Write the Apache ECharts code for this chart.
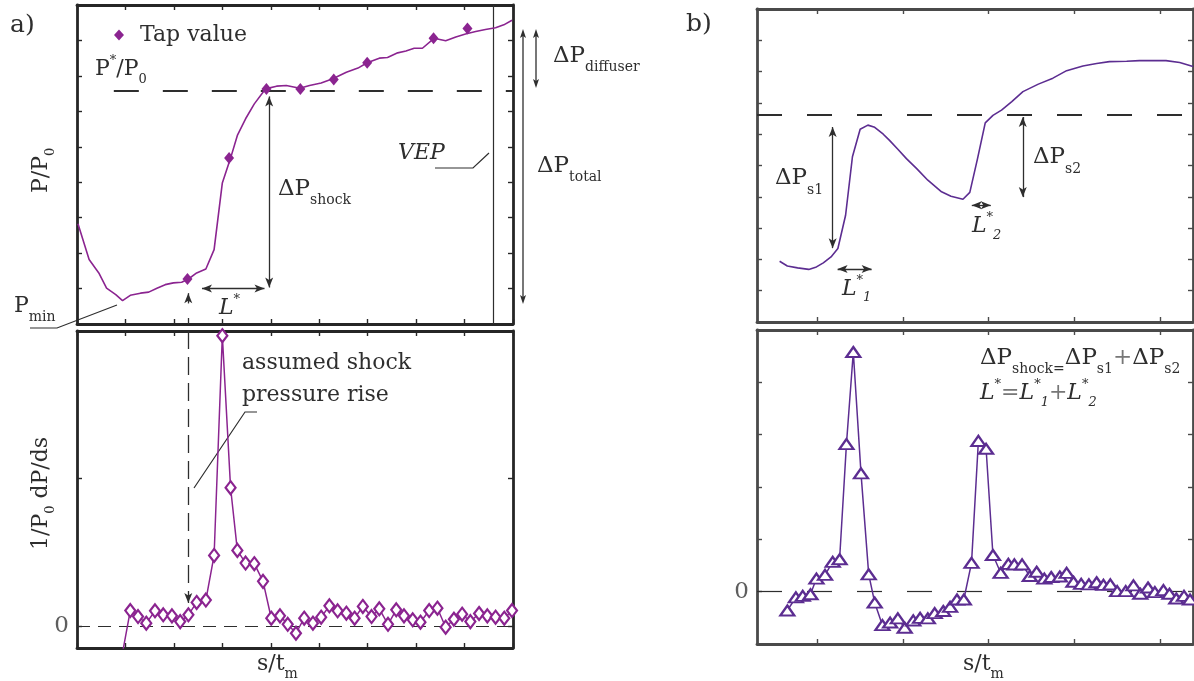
<!DOCTYPE html>
<html>
<head>
<meta charset="utf-8">
<script src="https://cdn.jsdelivr.net/npm/echarts@6/dist/echarts.min.js"></script>
<style>
html, body { margin: 0; padding: 0; background: #fff; }
#main { width: 1194px; height: 681px; }
</style>
</head>
<body>
<div id="main"></div>
<script>
// a) top: wall pressure along the passage, s/t_m against P/P0
var aLineX = [0.02,0.25,0.45,0.61,0.80,0.94,1.10,1.31,1.48,1.65,1.82,1.99,2.16,2.30,2.47,2.66,2.83,3.00,3.17,3.31,3.48,3.66,3.84,3.91,4.12,4.32,4.60,4.80,5.04,5.28,5.56,5.80,5.99,6.24,6.41,6.62,6.79,6.96,7.13,7.37,7.61,7.82,8.02,8.23,8.43,8.64,8.81,8.98];
var aLineY = [2.83,1.82,1.44,1.01,0.83,0.66,0.81,0.87,0.90,1.01,1.11,1.16,1.18,1.27,1.44,1.55,2.10,3.98,4.68,5.32,5.79,6.21,6.54,6.64,6.71,6.73,6.65,6.73,6.80,6.92,7.10,7.22,7.37,7.50,7.52,7.65,7.70,7.78,7.78,8.06,7.99,8.10,8.18,8.25,8.31,8.36,8.44,8.57];
// tap values
var tapX = [2.28,3.14,3.91,4.61,5.30,5.99,7.36,8.06];
var tapY = [1.27,4.68,6.63,6.63,6.90,7.37,8.06,8.34];
// a) bottom: 1/P0 dP/ds
var aGradX = [0.93,1.10,1.26,1.43,1.61,1.78,1.96,2.13,2.30,2.47,2.66,2.83,3.00,3.17,3.31,3.48,3.66,3.84,4.01,4.19,4.35,4.52,4.69,4.87,5.04,5.21,5.38,5.56,5.73,5.90,6.08,6.24,6.42,6.59,6.75,6.93,7.09,7.27,7.44,7.61,7.78,7.95,8.12,8.30,8.47,8.64,8.82,8.98];
var aGradY = [-0.20,0.104,0.063,0.018,0.102,0.075,0.068,0.029,0.075,0.159,0.175,0.478,1.968,0.937,0.512,0.426,0.422,0.302,0.052,0.068,0.011,-0.050,0.052,0.018,0.059,0.136,0.102,0.086,0.052,0.132,0.063,0.116,0.011,0.109,0.068,0.041,0.025,0.104,0.120,-0.009,0.045,0.079,0.029,0.084,0.068,0.059,0.052,0.104];
// b) top: pressure with two shocks
var bLineX = [0.56,0.65,0.77,0.90,0.99,1.07,1.16,1.24,1.33,1.41,1.50,1.59,1.67,1.77,1.84,1.94,2.04,2.16,2.29,2.45,2.56,2.70,2.78,2.87,2.96,3.05,3.15,3.27,3.40,3.58,3.75,3.91,4.10,4.26,4.41,4.61,4.76,4.92,5.07,5.23,5.385];
var bLineY = [1.94,1.79,1.73,1.68,1.76,1.89,2.08,2.35,3.41,5.28,6.16,6.29,6.22,6.00,5.81,5.52,5.22,4.90,4.53,4.16,4.02,3.92,4.14,5.22,6.36,6.60,6.77,7.04,7.36,7.60,7.79,8.03,8.18,8.26,8.32,8.33,8.35,8.35,8.35,8.29,8.16];
// b) bottom: gradient
var bGradX = [0.65,0.75,0.83,0.92,0.99,1.09,1.18,1.26,1.34,1.42,1.51,1.60,1.67,1.76,1.85,1.94,2.02,2.12,2.20,2.29,2.37,2.47,2.55,2.63,2.71,2.80,2.88,2.97,3.05,3.14,3.23,3.30,3.39,3.48,3.56,3.65,3.73,3.83,3.91,3.99,4.08,4.17,4.26,4.34,4.42,4.50,4.60,4.69,4.77,4.86,4.94,5.04,5.11,5.19,5.28,5.35];
var bGradY = [-0.36,-0.11,-0.08,-0.05,0.25,0.32,0.57,0.62,2.82,4.58,2.26,0.33,-0.21,-0.64,-0.59,-0.51,-0.69,-0.55,-0.50,-0.51,-0.41,-0.37,-0.29,-0.15,-0.15,0.55,2.88,2.73,0.70,0.36,0.53,0.52,0.52,0.30,0.38,0.25,0.28,0.29,0.36,0.19,0.15,0.14,0.18,0.13,0.14,0.01,0.01,0.12,-0.04,0.08,-0.01,0.03,-0.04,-0.13,-0.08,-0.15];

// reference levels
var pStarA = 6.59, pStarB = 6.61, vep = 8.6, tapMark = 2.297;

var PA = '#8b2490', PB = '#5c2d91', INK = '#2e2e2e';
var FONT = '"DejaVu Serif", "Liberation Serif", serif';

function zip(xs, ys) { return xs.map(function (x, i) { return [x, ys[i]]; }); }

var meter = document.createElement('canvas').getContext('2d');
function fontOf(size, italic) { return (italic ? 'italic ' : '') + size + 'px ' + FONT; }
function textWidth(s, size, italic) { meter.font = fontOf(size, italic); return meter.measureText(s).width; }

// parts: [text, size, yShift, italic, colour]
function mathText(parts, x, y, rot) {
  var cx = 0, kids = [];
  parts.forEach(function (p) {
    kids.push({type: 'text', x: cx, y: p[2] || 0,
      style: {text: p[0], font: fontOf(p[1], p[3]), fill: p[4] || INK, verticalAlign: 'middle'}});
    cx += textWidth(p[0], p[1], p[3]);
  });
  return {type: 'group', x: x, y: y, rotation: rot || 0, silent: true, children: kids};
}
function polyline(pts) {
  return {type: 'polyline', silent: true, shape: {points: pts}, style: {stroke: INK, lineWidth: 1.2, fill: null}};
}
function vArrow(x, y1, y2) {
  return {type: 'group', silent: true, children: [
    {type: 'line', shape: {x1: x, y1: y1 + 3, x2: x, y2: y2 - 3}, style: {stroke: INK, lineWidth: 1.3}},
    {type: 'polygon', shape: {points: [[x, y1], [x - 3, y1 + 9], [x, y1 + 7], [x + 3, y1 + 9]]}, style: {fill: INK}},
    {type: 'polygon', shape: {points: [[x, y2], [x - 3, y2 - 9], [x, y2 - 7], [x + 3, y2 - 9]]}, style: {fill: INK}}
  ]};
}

function axis(kind, grid, pos, min, max, col, ticks, extra) {
  var a = {type: 'value', gridIndex: grid, position: pos, min: min, max: max,
    axisLine: {show: true, onZero: false, lineStyle: {color: col, width: 2.8}},
    axisTick: {show: true, inside: true, length: 5, lineStyle: {color: col, width: 1.4}},
    axisLabel: {show: false}, splitLine: {show: false}};
  if (ticks) a.axisTick.customValues = ticks; else a.interval = 1;
  if (extra) a.axisLabel = extra;
  return a;
}
var zeroLabel = {show: true, customValues: [0], fontFamily: FONT, fontSize: 23, color: '#5e5e5e', margin: 8};

function arrowPair(p1, p2, both) {
  return [{coord: p1, symbol: both ? 'arrow' : 'none', symbolSize: [6, 10], lineStyle: {type: 'solid', color: INK, width: 1.3}},
          {coord: p2, symbol: 'arrow', symbolSize: [6, 10]}];
}
function plainLine(p1, p2, dash, w) {
  return [{coord: p1, symbol: 'none', lineStyle: {type: dash, color: INK, width: w}}, {coord: p2, symbol: 'none'}];
}
var bTicks = [1, 2, 3, 4, 5];

var option = {
  animation: false,
  backgroundColor: '#fff',
  grid: [
    {left: 77, top: 5, width: 436, height: 319},
    {left: 77, top: 331, width: 436, height: 317},
    {left: 757, top: 9, width: 436, height: 313},
    {left: 757, top: 330, width: 436, height: 314}
  ],
  xAxis: [
    axis('x', 0, 'bottom', 0, 9, '#262626'), axis('x', 0, 'top', 0, 9, '#262626'),
    axis('x', 1, 'bottom', 0, 9, '#262626'), axis('x', 1, 'top', 0, 9, '#262626'),
    axis('x', 2, 'bottom', 0.296, 5.385, '#4a4a4a', bTicks), axis('x', 2, 'top', 0.296, 5.385, '#4a4a4a', bTicks),
    axis('x', 3, 'bottom', 0.296, 5.385, '#4a4a4a', bTicks), axis('x', 3, 'top', 0.296, 5.385, '#4a4a4a', bTicks)
  ],
  yAxis: [
    axis('y', 0, 'left', 0, 9, '#262626'), axis('y', 0, 'right', 0, 9, '#262626'),
    axis('y', 1, 'left', -0.15, 2, '#262626', [0, 1, 2], zeroLabel), axis('y', 1, 'right', -0.15, 2, '#262626', [0, 1, 2]),
    axis('y', 2, 'left', 0, 10, '#4a4a4a'), axis('y', 2, 'right', 0, 10, '#4a4a4a'),
    axis('y', 3, 'left', -1, 5, '#4a4a4a', null, {show: true, fontFamily: FONT, fontSize: 23, color: '#5e5e5e', margin: 8,
      formatter: function (v) { return v === 0 ? '0' : ''; }}),
    axis('y', 3, 'right', -1, 5, '#4a4a4a')
  ],
  legend: {data: ['Tap value'], left: 109, top: 19, itemWidth: 10, itemHeight: 11, selectedMode: false,
    textStyle: {fontFamily: FONT, fontSize: 22, color: INK, padding: [0, 0, 0, 11]}},
  series: [
    {name: 'P/P0', type: 'line', xAxisIndex: 0, yAxisIndex: 0, data: zip(aLineX, aLineY), showSymbol: false,
      lineStyle: {color: PA, width: 1.6}, itemStyle: {color: PA}, z: 3,
      markLine: {silent: true, symbol: 'none', label: {show: false}, z: 2, data: [
        plainLine([0.76, pStarA], [9, pStarA], [25, 24], 2),
        plainLine([vep, 0], [vep, 9], 'solid', 1.2),
        arrowPair([3.967, 1.03], [3.967, 6.42], true),
        arrowPair([2.58, 1.0], [3.87, 1.0], true),
        arrowPair([tapMark, 0.58], [tapMark, 0.87], false),
        plainLine([tapMark, 0.17], [tapMark, 0], [9, 6], 1.3)
      ]}},
    {name: 'Tap value', type: 'scatter', xAxisIndex: 0, yAxisIndex: 0, data: zip(tapX, tapY),
      symbol: 'diamond', symbolSize: [10, 12], itemStyle: {color: PA, opacity: 1}, z: 4},
    {name: 'dP/ds a', type: 'line', xAxisIndex: 2, yAxisIndex: 2, data: zip(aGradX, aGradY),
      symbol: 'diamond', symbolSize: [10, 13], showAllSymbol: true, z: 3,
      lineStyle: {color: PA, width: 1.5}, itemStyle: {color: '#fff', borderColor: PA, borderWidth: 2.2},
      markLine: {silent: true, symbol: 'none', label: {show: false}, z: 1, data: [
        plainLine([0, 0], [9, 0], [13, 8], 1.2),
        [{coord: [tapMark, 2], symbol: 'none', lineStyle: {type: [18, 8], color: INK, width: 1.3}},
         {coord: [tapMark, 0.155], symbol: 'arrow', symbolSize: [6, 10]}]
      ]}},
    {name: 'P/P0 b', type: 'line', xAxisIndex: 4, yAxisIndex: 4, data: zip(bLineX, bLineY), showSymbol: false,
      lineStyle: {color: PB, width: 1.6}, itemStyle: {color: PB}, z: 3,
      markLine: {silent: true, symbol: 'none', label: {show: false}, z: 2, data: [
        plainLine([0.296, pStarB], [5.385, pStarB], [25, 25], 2),
        arrowPair([1.179, 2.36], [1.179, 6.23], true),
        arrowPair([3.398, 3.99], [3.398, 6.55], true),
        arrowPair([1.237, 1.69], [1.634, 1.69], true),
        arrowPair([2.803, 3.73], [3.025, 3.73], true)
      ]}},
    {name: 'dP/ds b', type: 'line', xAxisIndex: 6, yAxisIndex: 6, data: zip(bGradX, bGradY),
      symbol: 'triangle', symbolSize: [14, 10], showAllSymbol: true, z: 3,
      lineStyle: {color: PB, width: 1.5}, itemStyle: {color: '#fff', borderColor: PB, borderWidth: 2.2},
      markLine: {silent: true, symbol: 'none', label: {show: false}, z: 1, data: [
        plainLine([0.296, 0], [5.385, 0], [25, 25], 1.2)
      ]}}
  ],
  graphic: [
    mathText([['a)', 25, 0]], 10, 25),
    mathText([['b)', 25, 0]], 686, 24),
    mathText([['P', 22, 0], ['*', 13, -8], ['/P', 22, 0], ['0', 13, 11]], 95, 69),
    mathText([['ΔP', 23, 0], ['shock', 14, 11]], 278, 189),
    mathText([['L', 22, 0, true], ['*', 13, -8]], 219, 308),
    mathText([['P', 22, 0], ['min', 14, 11]], 14, 306),
    mathText([['VEP', 22, 0, true]], 398, 153),
    mathText([['ΔP', 23, 0], ['diffuser', 14, 11]], 553, 56),
    mathText([['ΔP', 23, 0], ['total', 14, 11]], 537, 166),
    mathText([['assumed shock', 22, 0]], 242, 363),
    mathText([['pressure rise', 22, 0]], 242, 395),
    mathText([['s/t', 22, 0], ['m', 14, 10]], 257, 664),
    mathText([['s/t', 22, 0], ['m', 14, 10]], 963, 664),
    mathText([['P/P', 22, 0], ['0', 13, 10]], 41, 193, Math.PI / 2),
    mathText([['1/P', 22, 0], ['0', 13, 10], [' dP/ds', 22, 0]], 41, 550, Math.PI / 2),
    mathText([['ΔP', 23, 0], ['s1', 14, 12]], 775, 178),
    mathText([['ΔP', 23, 0], ['s2', 14, 12]], 1033, 157),
    mathText([['L', 22, 0, true], ['*', 13, -8], ['1', 13, 9, true]], 842, 289),
    mathText([['L', 22, 0, true], ['*', 13, -8], ['2', 13, 10, true]], 972, 226),
    mathText([['ΔP', 23, 0], ['shock=', 14, 11], ['ΔP', 23, 0], ['s1', 14, 11], ['+', 23, 0, false, '#777'],
              ['ΔP', 23, 0], ['s2', 14, 11]], 980, 358),
    mathText([['L', 22, 0, true], ['*', 13, -8], ['=', 22, 0, false, '#777'], ['L', 22, 0, true], ['*', 13, -8],
              ['1', 13, 10, true], ['+', 22, 0, false, '#777'], ['L', 22, 0, true], ['*', 13, -8], ['2', 13, 10, true]], 980, 393),
    polyline([[30, 328], [57, 328], [117, 305]]),
    polyline([[435, 168], [473, 168], [489, 153]]),
    polyline([[257, 412], [245, 412], [194, 488]]),
    vArrow(523, 29, 304),
    vArrow(536, 29, 88)
  ]
};

var chart = echarts.init(document.getElementById('main'));
chart.setOption(option);
</script>
</body>
</html>
